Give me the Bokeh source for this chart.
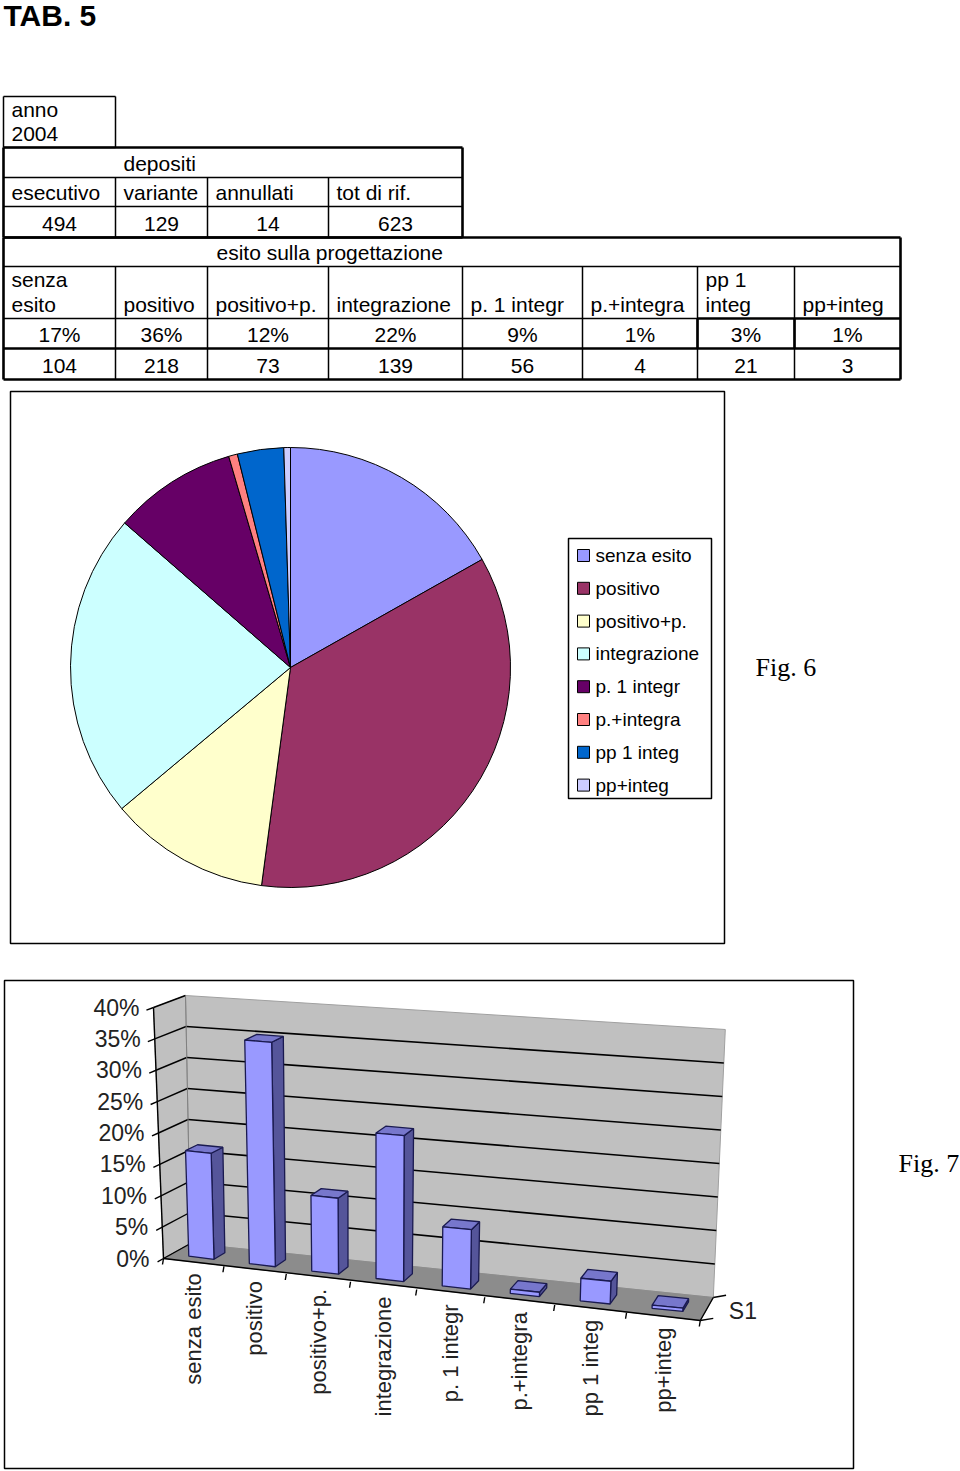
import math
from bokeh.plotting import figure
from bokeh.models import Range1d
from bokeh.core.properties import value
from bokeh.embed import file_html
from bokeh.resources import INLINE

# ---------------- data ----------------
title_text = "TAB. 5"
year_label = ["anno", "2004"]
depositi_title = "depositi"
depositi_headers = ["esecutivo", "variante", "annullati", "tot di rif."]
depositi_values = [494, 129, 14, 623]
esito_title = "esito sulla progettazione"
categories = ["senza esito", "positivo", "positivo+p.", "integrazione",
              "p. 1 integr", "p.+integra", "pp 1 integ", "pp+integ"]
table_header_lines = [["senza", "esito"], ["positivo"], ["positivo+p."], ["integrazione"],
                      ["p. 1 integr"], ["p.+integra"], ["pp 1", "integ"], ["pp+integ"]]
pct_labels = ["17%", "36%", "12%", "22%", "9%", "1%", "3%", "1%"]
counts = [104, 218, 73, 139, 56, 4, 21, 3]
pie_colors = ["#9999FF", "#993366", "#FFFFCC", "#CCFFFF", "#660066", "#FF8080", "#0066CC", "#CCCCFF"]
y_ticks = [0.0, 0.05, 0.10, 0.15, 0.20, 0.25, 0.30, 0.35, 0.40]
y_tick_labels = ["0%", "5%", "10%", "15%", "20%", "25%", "30%", "35%", "40%"]
series_name = "S1"
fig6_label = "Fig. 6"
fig7_label = "Fig. 7"

W, H = 960, 1471
SANS = "Liberation Sans"
SERIF = "Liberation Serif"


def Y(y):
    return H - y


p = figure(width=W, height=H, x_range=Range1d(0, W), y_range=Range1d(0, H),
           output_backend="svg", toolbar_location=None, min_border=0,
           x_axis_type=None, y_axis_type=None)
p.grid.visible = False
p.outline_line_color = None
p.background_fill_color = "white"
p.border_fill_color = "white"


def add_text(xs, ys, texts, size, font=SANS, align="left", baseline="middle",
             style="normal", color="black", angle=0.0):
    p.text(x=list(xs), y=[Y(v) for v in ys], text=list(texts),
           text_font=value(font), text_font_size=value(f"{size}px"),
           text_align=align, text_baseline=baseline, text_font_style=style,
           text_color=color, angle=angle)


def segs(lines, width, color="black"):
    p.segment(x0=[l[0] for l in lines], y0=[Y(l[1]) for l in lines],
              x1=[l[2] for l in lines], y1=[Y(l[3]) for l in lines],
              line_color=color, line_width=width)


def rect_lines(x0, y0, x1, y1):
    return [(x0, y0, x1, y0), (x1, y0, x1, y1), (x1, y1, x0, y1), (x0, y1, x0, y0)]


# ---------------- title & table ----------------
add_text([3], [15], [title_text], 30, style="bold")

col_x = [3, 115, 207, 328, 462, 582, 697, 794, 900]
thin, thick = 1.5, 2.6

segs(rect_lines(3, 96, 115, 147), thin)
segs(rect_lines(3, 147, 462, 237), thick)
segs([(3, 177, 462, 177), (3, 206, 462, 206)] +
     [(x, 177, x, 237) for x in col_x[1:4]], thin)
segs(rect_lines(3, 237, 900, 379), thick)
segs([(3, 266, 900, 266), (3, 318, 697, 318)] +
     [(x, 266, x, 379) for x in col_x[1:8]], thin)
segs([(3, 348, 900, 348), (697, 318, 900, 318), (697, 318, 697, 348), (794, 318, 794, 348)], thick)

add_text([11, 11], [109, 133], year_label, 21)
add_text([123], [163], [depositi_title], 21)
add_text([col_x[i] + 8 for i in range(4)], [192] * 4, depositi_headers, 21)
val_cols = [(3, 115), (115, 207), (207, 328), (328, 462)]
add_text([(a + b) / 2 for a, b in val_cols], [223] * 4, [str(v) for v in depositi_values], 21, align="center")
add_text([216], [252], [esito_title], 21)

hx, hy, ht = [], [], []
for i, lines in enumerate(table_header_lines):
    for j, s in enumerate(lines):
        hx.append(col_x[i] + 8)
        hy.append(304 - 25 * (len(lines) - 1 - j))
        ht.append(s)
add_text(hx, hy, ht, 21)
centers = [(col_x[i] + col_x[i + 1]) / 2 for i in range(8)]
add_text(centers, [334] * 8, pct_labels, 21, align="center")
add_text(centers, [365] * 8, [str(c) for c in counts], 21, align="center")

# ---------------- pie chart (Fig. 6) ----------------
p.quad(left=[10], right=[724], top=[Y(391)], bottom=[Y(943)],
       fill_color=None, line_color="black", line_width=1.5)
total = sum(counts)
starts, ends = [], []
cum = 0
for c in counts:
    a0 = math.pi / 2 - 2 * math.pi * cum / total
    cum += c
    a1 = math.pi / 2 - 2 * math.pi * cum / total
    starts.append(a1)
    ends.append(a0)
p.wedge(x=290, y=Y(667), radius=220, start_angle=starts, end_angle=ends,
        fill_color=pie_colors, line_color="black", line_width=1)

# legend
p.quad(left=[568], right=[711], top=[Y(538)], bottom=[Y(798)],
       fill_color="white", line_color="black", line_width=1.5)
leg_y = [555 + 32.8 * i for i in range(len(categories))]
p.quad(left=[577] * 8, right=[589] * 8, top=[Y(v - 6) for v in leg_y], bottom=[Y(v + 6) for v in leg_y],
       fill_color=pie_colors, line_color="black", line_width=1)
add_text([595] * 8, [v for v in leg_y], categories, 19)
add_text([755], [667], [fig6_label], 26, font=SERIF)

# ---------------- 3D column chart (Fig. 7) ----------------
p.quad(left=[4], right=[853], top=[Y(980)], bottom=[Y(1468)],
       fill_color=None, line_color="black", line_width=1.5)
N = len(categories)


def fx_front(u):
    return 163 + 59.5 * u + 0.95 * u * u


def fx_back(u):
    return 190 + (59.5 * u + 0.95 * u * u) * 523 / 537


def proj(u, w, v):
    ff = fx_front(u) + (-25 + 55 * u / N) * v
    fb = fx_back(u) + (-12.5 + 42.5 * u / N) * v
    yf = 1258 + 7.75 * u - (627.5 + 52.5 * u / N) * v
    yb = 1243 + 6.75 * u - (620 + 50 * u / N) * v
    return (1 - w) * ff + w * fb, (1 - w) * yf + w * yb


def poly(pts):
    xs, ys = [], []
    for (u, w, v) in pts:
        x, y = proj(u, w, v)
        xs.append(x)
        ys.append(Y(y))
    return xs, ys


vmax = y_ticks[-1]
wall = poly([(0, 1, 0), (N, 1, 0), (N, 1, vmax), (0, 1, vmax)])
side = poly([(0, 0, 0), (0, 1, 0), (0, 1, vmax), (0, 0, vmax)])
floor = poly([(0, 0, 0), (N, 0, 0), (N, 1, 0), (0, 1, 0)])
p.patches(xs=[wall[0], side[0]], ys=[wall[1], side[1]], fill_color="#C0C0C0", line_color="#A0A0A0", line_width=1)
p.patches(xs=[floor[0]], ys=[floor[1]], fill_color="#8C8C8C", line_color="#8C8C8C", line_width=1)

grid = []
for v in y_ticks[1:-1]:
    a = proj(0, 1, v)
    b = proj(N, 1, v)
    grid.append((a[0], a[1], b[0], b[1]))
segs(grid, 1.6)
side_grid = []
for v in y_ticks:
    a = proj(0, 0, v)
    b = proj(0, 1, v)
    side_grid.append((a[0], a[1], b[0], b[1]))
segs(side_grid, 1.4)
a = proj(0, 1, 0); b = proj(0, 1, vmax)
segs([(a[0], a[1], b[0], b[1])], 1, color="#808080")

# value axis
a = proj(0, 0, 0); b = proj(0, 0, vmax)
axis_lines = [(a[0], a[1], b[0], b[1])]
for v in y_ticks:
    a = proj(0, 0, v); b = proj(0, -0.22, v)
    axis_lines.append((a[0], a[1], b[0], b[1]))
# category axis
a = proj(0, 0, 0); b = proj(N, 0, 0)
axis_lines.append((a[0], a[1], b[0], b[1]))
for u in range(N + 1):
    a = proj(u, 0, 0)
    axis_lines.append((a[0], a[1], a[0] - 1, a[1] + 6))
# series (depth) axis
a = proj(N, 0, 0); b = proj(N, 1, 0)
axis_lines.append((a[0], a[1], b[0], b[1]))
for w in (0, 1):
    a = proj(N, w, 0); b = proj(N + 0.12, w, 0)
    axis_lines.append((a[0], a[1], b[0] + 4, b[1] - 3))
segs(axis_lines, 1.4)

lx, ly = [], []
for v in y_ticks:
    x, y = proj(0, 0, v)
    lx.append(x - 14)
    ly.append(y)
add_text(lx, ly, y_tick_labels, 23, align="right", color="#222222")

sx, sy = proj(N, 0.5, 0)
add_text([sx + 22], [sy + 2], [series_name], 23, color="#222222")

cx, cy = [], []
for i in range(N):
    x, y = proj(i + 0.5, 0, 0)
    cx.append(x)
    cy.append(y + 11)
add_text(cx, cy, categories, 22, align="right", color="#222222", angle=math.pi / 2)

# bars
shares = [c / total for c in counts]
fronts, sides, tops = ([], []), ([], []), ([], [])
for i, s in enumerate(shares):
    u0, u1, w0, w1 = i + 0.29, i + 0.71, 0.3, 0.72
    f = poly([(u0, w0, 0), (u1, w0, 0), (u1, w0, s), (u0, w0, s)])
    sd = poly([(u1, w0, 0), (u1, w1, 0), (u1, w1, s), (u1, w0, s)])
    tp = poly([(u0, w0, s), (u1, w0, s), (u1, w1, s), (u0, w1, s)])
    for acc, pg in ((fronts, f), (sides, sd), (tops, tp)):
        acc[0].append(pg[0])
        acc[1].append(pg[1])
bar_line = "#1A1A50"
p.patches(xs=sides[0], ys=sides[1], fill_color="#55559A", line_color=bar_line, line_width=1.3)
p.patches(xs=tops[0], ys=tops[1], fill_color="#7777CC", line_color=bar_line, line_width=1.3)
p.patches(xs=fronts[0], ys=fronts[1], fill_color="#9999FF", line_color=bar_line, line_width=1.3)

add_text([898], [1163], [fig7_label], 26, font=SERIF)

open("out.html", "w").write(file_html(p, INLINE))
